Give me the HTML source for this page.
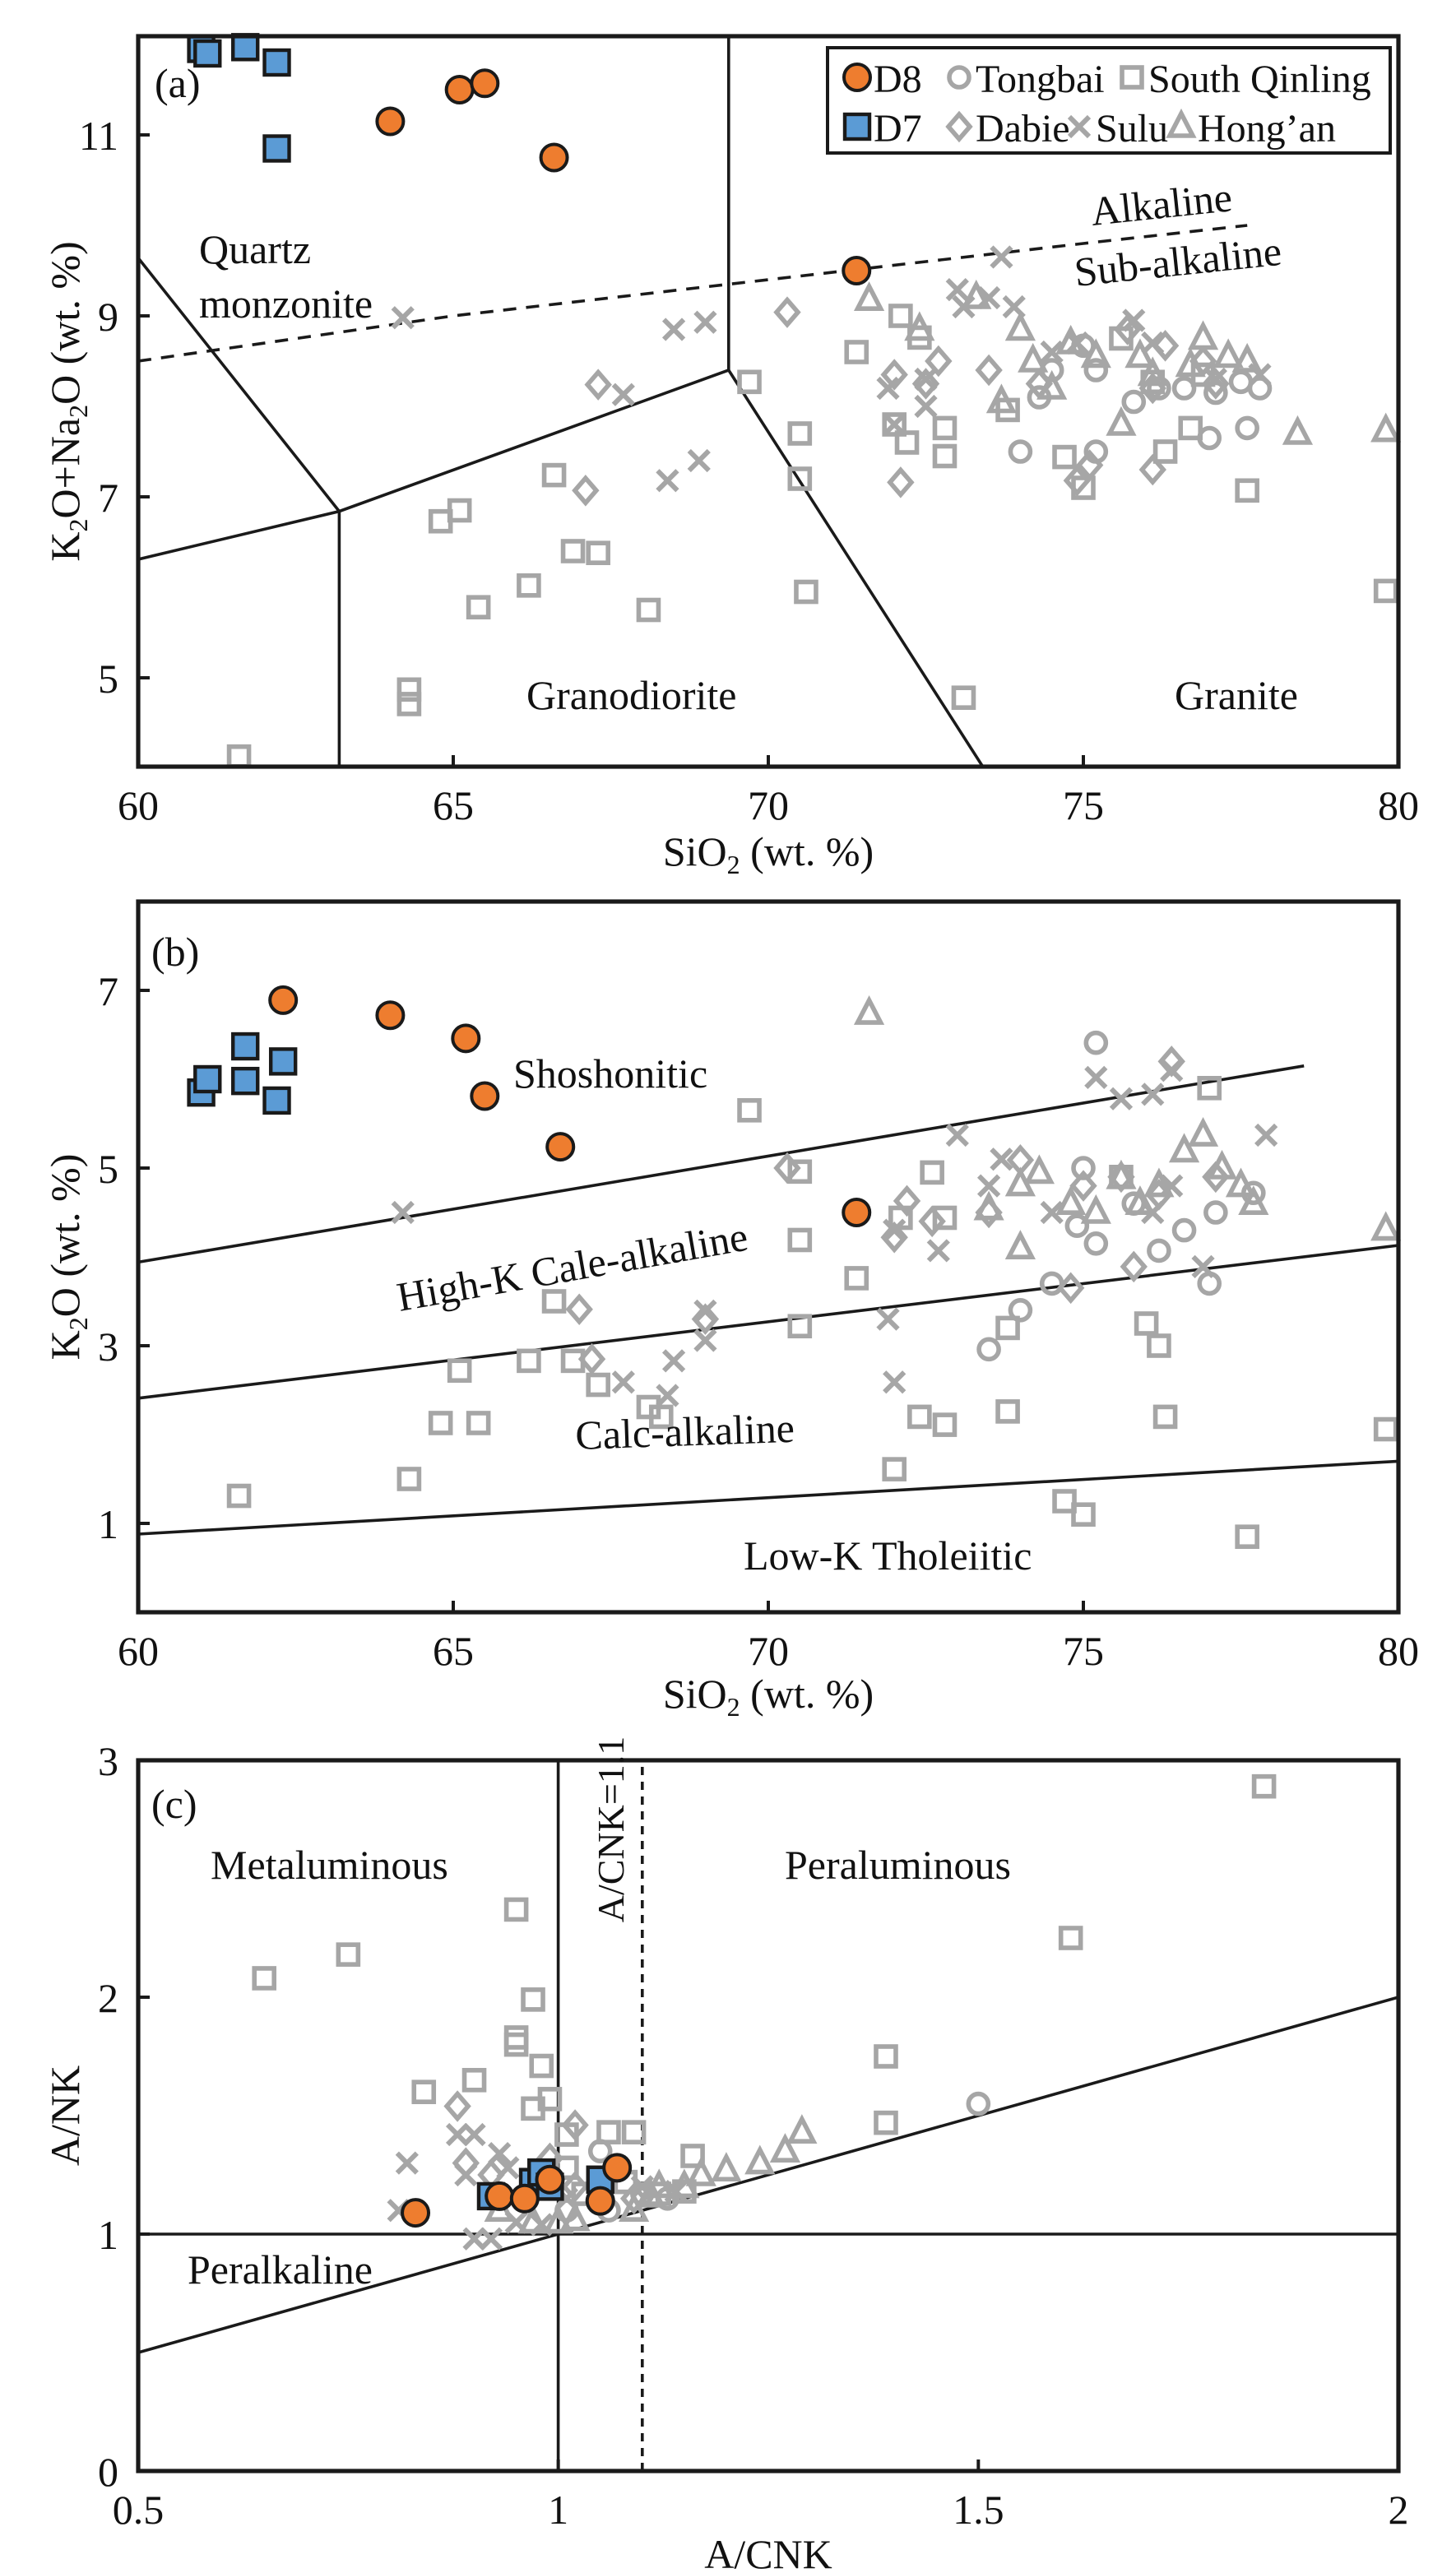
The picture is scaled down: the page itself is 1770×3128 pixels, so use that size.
<!DOCTYPE html>
<html><head><meta charset="utf-8">
<style>
html,body{margin:0;padding:0;background:#fff;}
svg{display:block;font-family:"Liberation Serif",serif;}
</style></head>
<body>
<svg id="fig" width="1770" height="3128" viewBox="0 0 885 1564" xmlns="http://www.w3.org/2000/svg">
<rect width="885" height="1564" fill="#fff"/>
</svg>
<script>
// ---------- Panel (a) data: [SiO2, K2O+Na2O] ----------
const aD8 = [[64.0,11.15],[65.1,11.5],[65.5,11.57],[66.6,10.75],[71.4,9.5]];
const aD7 = [[61.0,11.95],[61.1,11.9],[61.7,11.97],[62.2,11.8],[62.2,10.85]];
const aQinling = [[61.6,4.13],[64.3,4.87],[64.3,4.71],[64.8,6.73],[65.1,6.85],[65.4,5.78],[66.2,6.02],[66.6,7.24],[66.9,6.4],[67.3,6.38],[68.1,5.75],[69.7,8.27],[70.5,7.7],[70.5,7.2],[70.6,5.95],[71.4,8.6],[72.1,9.0],[72.0,7.8],[72.2,7.6],[72.8,7.76],[72.8,7.45],[72.4,8.76],[73.1,4.78],[73.8,7.96],[74.7,7.44],[75.0,7.1],[75.6,8.75],[76.3,7.5],[76.7,7.76],[77.6,7.07],[79.8,5.96],[76.1,8.27],[76.9,8.35]];
const aTongbai = [[74.0,7.5],[75.2,7.5],[77.0,7.65],[77.6,7.76],[74.3,8.1],[75.0,8.67],[75.8,8.05],[76.2,8.2],[76.6,8.2],[77.1,8.15],[77.5,8.27],[77.8,8.2],[74.5,8.4],[75.2,8.4]];
const aDabie = [[70.3,9.04],[67.3,8.24],[67.1,7.07],[72.0,8.35],[72.1,7.16],[72.5,8.25],[72.7,8.5],[74.3,8.25],[75.1,7.35],[74.9,7.18],[76.1,7.3],[76.3,8.67],[73.5,8.4],[76.1,8.2],[76.9,8.5],[77.1,8.25],[75.7,8.85]];
const aSulu = [[64.2,8.98],[67.7,8.13],[68.4,7.18],[68.5,8.85],[68.9,7.4],[69.0,8.93],[71.9,8.2],[72.0,7.8],[73.0,9.29],[73.7,9.65],[73.5,9.2],[73.9,9.1],[72.5,8.0],[72.5,8.3],[73.1,9.1],[74.5,8.6],[74.9,8.7],[75.8,8.95],[76.1,8.7],[77.1,8.3],[77.8,8.35]];
const aHongan = [[71.6,9.18],[72.4,8.85],[73.3,9.2],[74.0,8.85],[73.7,8.05],[74.2,8.5],[74.5,8.2],[74.8,8.7],[75.2,8.55],[75.6,7.8],[75.9,8.55],[76.1,8.35],[76.7,8.45],[76.9,8.75],[77.3,8.55],[77.6,8.5],[78.4,7.7],[79.8,7.73]];
const aXTicks = [60,65,70,75,80];
const aYTicks = [5,7,9,11];

// ---------- Panel (b) data: [SiO2, K2O] ----------
const bD8 = [[62.3,6.89],[64.0,6.72],[65.2,6.46],[65.5,5.81],[66.7,5.24],[71.4,4.5]];
const bD7 = [[61.0,5.85],[61.1,6.0],[61.7,6.37],[61.7,5.98],[62.3,6.2],[62.2,5.76]];
const bQinling = [[61.6,1.31],[64.3,1.5],[64.8,2.13],[65.1,2.72],[65.4,2.13],[66.2,2.83],[66.6,3.5],[66.9,2.83],[67.3,2.56],[68.1,2.31],[68.3,2.2],[69.7,5.65],[70.5,4.96],[70.5,4.19],[70.5,3.22],[71.4,3.76],[72.1,4.44],[72.0,1.61],[72.4,2.2],[72.8,2.11],[72.6,4.95],[72.8,4.44],[73.8,3.2],[73.8,2.26],[74.7,1.25],[75.0,1.1],[75.6,4.9],[76.0,3.25],[76.2,3.0],[76.3,2.2],[77.0,5.9],[77.6,0.85],[79.8,2.06]];
const bTongbai = [[75.2,6.41],[74.0,3.4],[73.5,2.96],[74.5,3.7],[74.9,4.35],[75.2,4.15],[75.8,4.6],[76.2,4.07],[76.6,4.3],[77.0,3.7],[77.1,4.5],[77.7,4.72],[75.0,5.0]];
const bDabie = [[67.0,3.41],[67.2,2.85],[70.3,5.0],[72.0,4.22],[72.2,4.63],[72.6,4.4],[73.5,4.5],[74.0,5.09],[75.0,4.8],[75.6,4.9],[76.2,4.7],[76.4,6.2],[77.1,4.9],[74.8,3.65],[75.8,3.89],[69.0,3.3]];
const bSulu = [[64.2,4.5],[67.7,2.59],[68.4,2.44],[68.5,2.83],[69.0,3.06],[69.0,3.39],[72.0,4.3],[72.0,2.59],[71.9,3.3],[73.0,5.37],[73.7,5.1],[73.5,4.8],[72.7,4.07],[74.5,4.5],[75.2,6.02],[75.6,5.78],[76.1,5.83],[76.4,6.1],[76.1,4.5],[77.9,5.37],[76.9,3.89],[76.4,4.8]];
const bHongan = [[71.6,6.74],[73.5,4.54],[74.0,4.81],[74.3,4.95],[74.8,4.6],[75.2,4.5],[75.6,4.89],[75.9,4.6],[76.2,4.8],[76.6,5.19],[76.9,5.37],[77.2,5.0],[77.5,4.8],[77.7,4.6],[79.8,4.31],[74.0,4.1]];
const bXTicks = [60,65,70,75,80];
const bYTicks = [1,3,5,7];

// ---------- Panel (c) data: [A/CNK, A/NK] ----------
const cD8 = [[0.83,1.09],[0.93,1.16],[0.96,1.15],[0.99,1.23],[1.05,1.14],[1.07,1.28]];
const cD7 = [[0.92,1.16],[0.97,1.22],[0.98,1.26],[0.99,1.2],[1.05,1.23]];
const cQinling = [[0.65,2.08],[0.75,2.18],[0.84,1.6],[0.9,1.65],[0.95,2.37],[0.95,1.8],[0.95,1.83],[0.97,1.99],[0.98,1.71],[0.99,1.57],[0.97,1.53],[1.01,1.42],[1.06,1.43],[1.09,1.43],[1.16,1.33],[1.39,1.75],[1.39,1.47],[1.61,2.25],[1.84,2.89],[1.01,1.28],[1.08,1.22],[1.12,1.17],[1.15,1.18],[1.03,1.17]];
const cTongbai = [[1.5,1.55],[1.05,1.35],[1.1,1.17],[1.13,1.15],[1.01,1.1],[1.06,1.1]];
const cDabie = [[0.88,1.54],[1.02,1.46],[0.89,1.3],[0.92,1.25],[0.99,1.32],[1.02,1.2],[1.09,1.15]];
const cSulu = [[0.81,1.1],[0.82,1.3],[0.88,1.42],[0.9,1.42],[0.89,1.25],[0.93,1.34],[0.9,0.98],[0.92,0.98],[0.95,1.05],[0.98,1.04],[1.01,1.15],[1.1,1.2],[1.14,1.18],[0.94,1.28]];
const cHongan = [[1.29,1.43],[1.27,1.35],[1.24,1.3],[1.2,1.27],[1.17,1.25],[1.11,1.16],[1.12,1.2],[1.15,1.2],[0.97,1.05],[1.0,1.05],[0.93,1.1],[1.09,1.1],[1.02,1.06]];
const cXTicks = [0.5,1,1.5,2];
const cXTickLabels = ["0.5","1","1.5","2"];
const cYTicks = [0,1,2,3];

const NS = "http://www.w3.org/2000/svg";
const svg = document.getElementById('fig');
const GREY = "#a6a6a6";
const FS = 25;
function el(tag, attrs, parent){
  const e = document.createElementNS(NS, tag);
  for (const k in attrs) e.setAttribute(k, attrs[k]);
  (parent||svg).appendChild(e);
  return e;
}
function makeAxis(x0, x1, y0, y1, px0, px1, py0, py1){
  return {
    x: v => px0 + (v - x0) / (x1 - x0) * (px1 - px0),
    y: v => py0 - (v - y0) / (y1 - y0) * (py0 - py1)
  };
}
function marker(g, type, cx, cy, name){
  let m;
  if (type === 'D8'){
    m = el('circle', {cx:cx, cy:cy, r:8, fill:'#ee7d2f', stroke:'#1a1a1a', 'stroke-width':2}, g);
  } else if (type === 'D7'){
    m = el('rect', {x:cx-7.5, y:cy-7.5, width:15, height:15, fill:'#5b9bd5', stroke:'#1a1a1a', 'stroke-width':2.2}, g);
  } else if (type === 'Tongbai'){
    m = el('circle', {cx:cx, cy:cy, r:6, fill:'none', stroke:GREY, 'stroke-width':2.8}, g);
  } else if (type === 'Qinling'){
    m = el('rect', {x:cx-6, y:cy-6, width:12, height:12, fill:'none', stroke:GREY, 'stroke-width':2.8}, g);
  } else if (type === 'Dabie'){
    m = el('polygon', {points:`${cx},${cy-7.5} ${cx+6.5},${cy} ${cx},${cy+7.5} ${cx-6.5},${cy}`, fill:'none', stroke:GREY, 'stroke-width':2.8}, g);
  } else if (type === 'Sulu'){
    m = el('path', {d:`M${cx-6},${cy-6}L${cx+6},${cy+6}M${cx+6},${cy-6}L${cx-6},${cy+6}`, fill:'none', stroke:GREY, 'stroke-width':3}, g);
  } else {
    m = el('polygon', {points:`${cx},${cy-8} ${cx+7},${cy+5.5} ${cx-7},${cy+5.5}`, fill:'none', stroke:GREY, 'stroke-width':2.8}, g);
  }
  
  
  return m;
}
function text(g, x, y, str, size, extra){
  const t = el('text', Object.assign({x:x, y:y, 'font-size':size, fill:'#111'}, extra||{}), g);
  t.textContent = str;
  return t;
}
function frame(g, L, R, T, B){
  const f = el('rect', {x:L, y:T, width:R-L, height:B-T, fill:'none', stroke:'#1a1a1a', 'stroke-width':2.6}, g);
  
  
}
function ticks(g, ax, L, B, T, xt, yt, xlabels){
  xt.forEach((v,i) => {
    const px = ax.x(v);
    const tk = el('line', {x1:px, x2:px, y1:B, y2:B-7, stroke:'#1a1a1a', 'stroke-width':2}, g);
    
    
    const t = text(g, px, B+32, xlabels ? xlabels[i] : String(v), FS, {'text-anchor':'middle'});
    
    
  });
  yt.forEach(v => {
    const py = ax.y(v);
    const tk = el('line', {x1:L, x2:L+7, y1:py, y2:py, stroke:'#1a1a1a', 'stroke-width':2}, g);
    
    
    const t = text(g, L-12, py+9, String(v), FS, {'text-anchor':'end'});
    
    
  });
}
function line(g, ax, pts, name, extra){
  const d = pts.map((p,i) => (i?'L':'M') + ax.x(p[0]).toFixed(1) + ',' + ax.y(p[1]).toFixed(1)).join('');
  const l = el('path', Object.assign({d:d, fill:'none', stroke:'#1a1a1a', 'stroke-width':1.8}, extra||{}), g);
  
  
  return l;
}
function series(g, ax, data, type, name){
  const sg = el('g', {}, g);
  
  
  data.forEach(p => marker(sg, type, ax.x(p[0]), ax.y(p[1]), name + '-point'));
}
function greySeries(g, ax, q, t, d, s, h){
  series(g, ax, q, 'Qinling', 'south-qinling');
  series(g, ax, d, 'Dabie', 'dabie');
  series(g, ax, t, 'Tongbai', 'tongbai');
  series(g, ax, h, 'Hongan', 'hongan');
  series(g, ax, s, 'Sulu', 'sulu');
}

// ================= Panel (a) =================
(function(){
  const L=84,R=850,T=22,B=466;
  const ax = makeAxis(60,80,5,11, L,R, 412,82);
  const g = el('g', {});
  
  
  const clip = el('clipPath', {id:'clipA'}, g);
  el('rect', {x:L, y:T, width:R-L, height:B-T}, clip);
  const lg = el('g', {'clip-path':'url(#clipA)'}, g);
  line(lg, ax, [[60,8.5],[62.5,8.75],[65,9.0],[67.5,9.2],[70,9.4],[72.5,9.6],[75,9.8],[77.6,10.0]], 'alkaline-subalkaline-divider', {'stroke-dasharray':'8,6'});
  line(lg, ax, [[60,9.64],[63.19,6.84],[63.19,4.0]], 'quartz-monzonite-boundary');
  line(lg, ax, [[60,6.31],[63.19,6.84],[69.37,8.4],[69.37,12.2]], 'granodiorite-upper-boundary');
  line(lg, ax, [[69.37,8.4],[73.42,4.0]], 'granite-boundary');
  greySeries(g, ax, aQinling, aTongbai, aDabie, aSulu, aHongan);
  series(g, ax, aD7, 'D7', 'd7');
  series(g, ax, aD8, 'D8', 'd8');
  frame(g, L,R,T,B);
  ticks(g, ax, L, B, T, aXTicks, aYTicks);
  let t;
  t = text(g, 94, 59, '(a)', FS);  
  t = text(g, 121, 160, 'Quartz', FS);  
  t = text(g, 121, 193, 'monzonite', FS);  
  t = text(g, 664, 137, 'Alkaline', FS, {transform:'rotate(-6 664 137)'});  
  t = text(g, 654, 174, 'Sub-alkaline', FS, {transform:'rotate(-6 654 174)'});  
  t = text(g, 320, 431, 'Granodiorite', FS);  
  t = text(g, 714, 431, 'Granite', FS);  
  t = el('text', {x:467, y:526, 'font-size':FS, 'text-anchor':'middle', fill:'#111'}, g);
  t.innerHTML = 'SiO<tspan font-size="16" dy="5">2</tspan><tspan dy="-5"> (wt. %)</tspan>';
   
  t = el('text', {x:0, y:0, 'font-size':FS, 'text-anchor':'middle', fill:'#111', transform:'translate(48 244) rotate(-90)'}, g);
  t.innerHTML = 'K<tspan font-size="16" dy="5">2</tspan><tspan dy="-5">O+Na</tspan><tspan font-size="16" dy="5">2</tspan><tspan dy="-5">O (wt. %)</tspan>';
   
  // legend
  const lgd = el('g', {}, g);
  
  
  const box = el('rect', {x:503, y:29, width:342, height:64, fill:'#fff', stroke:'#1a1a1a', 'stroke-width':2}, lgd);
   
  const entries = [['D8','D8',521,47],['Tongbai','Tongbai',583,47],['Qinling','South Qinling',688,47],['D7','D7',521,77],['Dabie','Dabie',583,77],['Sulu','Sulu',656,77],['Hongan','Hong\u2019an',718,77]];
  entries.forEach(e => {
    const eg = el('g', {}, lgd);
    
    
    marker(eg, e[0], e[2], e[3], 'legend-marker');
    const lt = text(eg, e[2]+10, e[3]+9, e[1], 24);
    
    
  });
})();

// ================= Panel (b) =================
(function(){
  const L=84,R=850,T=548,B=980;
  const ax = makeAxis(60,80,1,7, L,R, 926,602);
  const g = el('g', {});
  
  
  line(g, ax, [[60,3.94],[78.5,6.15]], 'shoshonitic-boundary');
  line(g, ax, [[60,2.41],[80,4.13]], 'high-k-boundary');
  line(g, ax, [[60,0.88],[80,1.7]], 'low-k-boundary');
  greySeries(g, ax, bQinling, bTongbai, bDabie, bSulu, bHongan);
  series(g, ax, bD7, 'D7', 'd7');
  series(g, ax, bD8, 'D8', 'd8');
  frame(g, L,R,T,B);
  ticks(g, ax, L, B, T, bXTicks, bYTicks);
  let t;
  t = text(g, 92, 587, '(b)', FS);  
  t = text(g, 312, 661, 'Shoshonitic', FS);  
  t = text(g, 243, 797, 'High-K Cale-alkaline', FS, {transform:'rotate(-10 243 797)'});  
  t = text(g, 350, 881, 'Calc-alkaline', FS, {transform:'rotate(-2 350 881)'});  
  t = text(g, 452, 954, 'Low-K Tholeiitic', FS);  
  t = el('text', {x:467, y:1038, 'font-size':FS, 'text-anchor':'middle', fill:'#111'}, g);
  t.innerHTML = 'SiO<tspan font-size="16" dy="5">2</tspan><tspan dy="-5"> (wt. %)</tspan>';
   
  t = el('text', {x:0, y:0, 'font-size':FS, 'text-anchor':'middle', fill:'#111', transform:'translate(48 764) rotate(-90)'}, g);
  t.innerHTML = 'K<tspan font-size="16" dy="5">2</tspan><tspan dy="-5">O (wt. %)</tspan>';
   
})();

// ================= Panel (c) =================
(function(){
  const L=84,R=850,T=1070,B=1502;
  const ax = makeAxis(0.5,2,0,3, L,R, 1502,1070);
  const g = el('g', {});
  
  
  line(g, ax, [[1,0],[1,3]], 'acnk-1-line');
  line(g, ax, [[0.5,1],[2,1]], 'ank-1-line');
  line(g, ax, [[1.1,0],[1.1,3]], 'acnk-1.1-line', {'stroke-dasharray':'5,4'});
  line(g, ax, [[0.5,0.5],[2,2]], 'peralkaline-boundary');
  greySeries(g, ax, cQinling, cTongbai, cDabie, cSulu, cHongan);
  series(g, ax, cD7, 'D7', 'd7');
  series(g, ax, cD8, 'D8', 'd8');
  frame(g, L,R,T,B);
  ticks(g, ax, L, B, T, cXTicks, cYTicks, cXTickLabels);
  let t;
  t = text(g, 92, 1105, '(c)', FS);  
  t = text(g, 128, 1142, 'Metaluminous', FS);  
  t = text(g, 477, 1142, 'Peraluminous', FS);  
  t = text(g, 114, 1388, 'Peralkaline', FS);  
  t = text(g, 0, 0, 'A/CNK=1.1', 23, {'text-anchor':'middle', transform:'translate(379 1112) rotate(-90)'});  
  t = text(g, 467, 1561, 'A/CNK', FS, {'text-anchor':'middle'});  
  t = text(g, 0, 0, 'A/NK', FS, {'text-anchor':'middle', transform:'translate(48 1286) rotate(-90)'});  
})();
</script>
</body></html>
